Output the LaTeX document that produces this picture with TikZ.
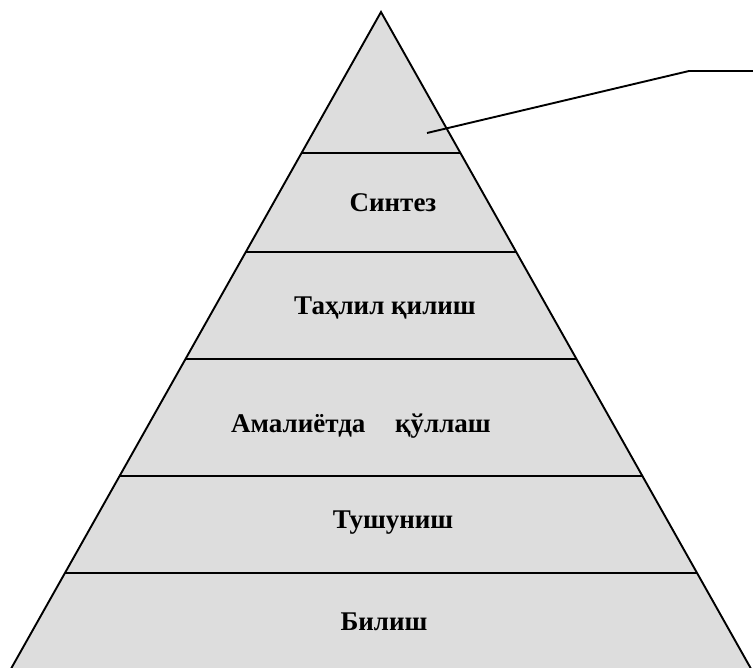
\documentclass[tikz,border=0pt]{standalone}
\usepackage{fontspec}
\setmainfont{Liberation Serif}
\usetikzlibrary{calc}
\begin{document}
\begin{tikzpicture}[x=1pt,y=-1pt,
  lvl/.style={font=\bfseries\fontsize{27}{32}\selectfont, anchor=base, inner sep=0pt},
  edge/.style={line width=1.9pt, line join=miter}]
\useasboundingbox (0,0) rectangle (753,668);
\coordinate (apex) at (381,12);
\coordinate (bl) at (10.3,670);
\coordinate (br) at (751.7,670);
\fill[fill={rgb,255:red,221;green,221;blue,221}] (apex) -- (bl) -- (br) -- cycle;
% level lines
\foreach \y/\n in {153/a,252/b,359/c,476/d,573/e}{
  \pgfmathsetmacro{\t}{(\y-12)/658}
  \coordinate (L\n) at ($(apex)!\t!(bl)$);
  \coordinate (R\n) at ($(apex)!\t!(br)$);
  \draw[edge] (L\n) -- (R\n);
}
\draw[edge] (bl) -- (apex) -- (br);
\node[lvl] (t1) at (393,212) {Синтез};
\node[lvl] (t2) at (385,315) {Таҳлил қилиш};
\node[lvl] (t3) at (361,432) {Амалиётда\hspace{1.1em}қўллаш};
\node[lvl] (t4) at (393,528) {Тушуниш};
\node[lvl] (t5) at (384,630) {Билиш};
\coordinate (cs) at (427,133);
\coordinate (ck) at (689,71);
\coordinate (ce) at (753,71);
\draw[edge] (cs) -- (ck) -- (ce);
\end{tikzpicture}
\end{document}
